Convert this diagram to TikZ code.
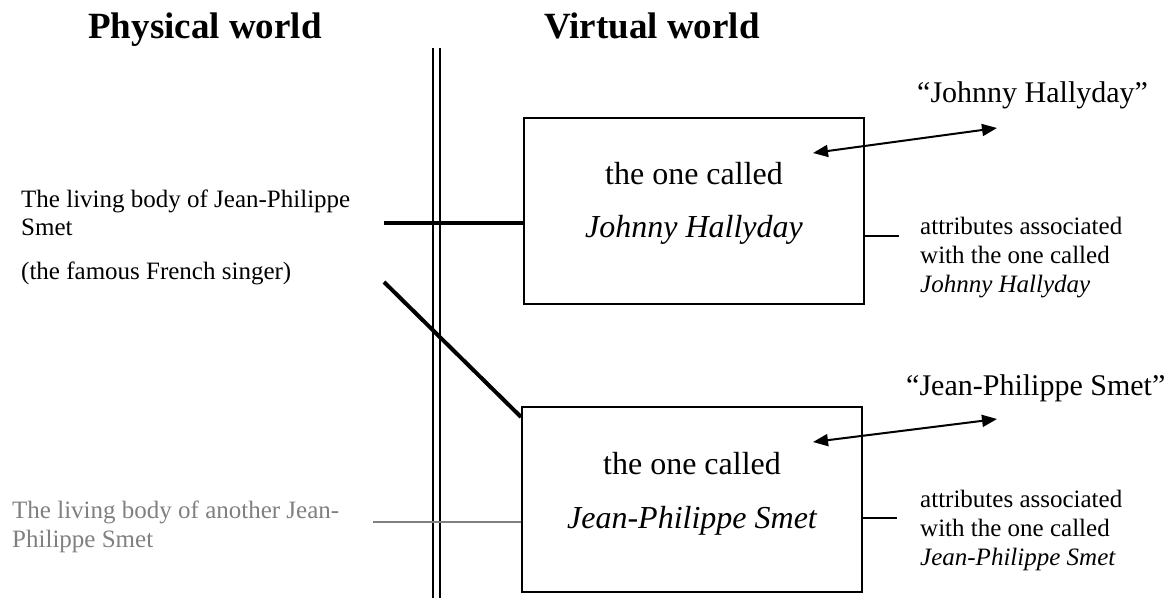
\documentclass[tikz,border=0pt]{standalone}
\usepackage{fontspec}
\setmainfont{Liberation Serif}
\usetikzlibrary{arrows.meta}
\definecolor{mutedgray}{HTML}{808080}
\begin{document}
\begin{tikzpicture}[x=1pt,y=-1pt,
  heading/.style={font=\fontsize{37}{44}\selectfont\bfseries, inner sep=0pt, anchor=base},
  bodytext/.style={font=\fontsize{25}{28.5}\selectfont, inner sep=0pt, align=left, anchor=base west},
  attrtext/.style={font=\fontsize{25}{29}\selectfont, inner sep=0pt, align=left, anchor=base west},
  boxtext/.style={font=\fontsize{32}{38}\selectfont, inner sep=0pt, anchor=base},
  quotetext/.style={font=\fontsize{30}{36}\selectfont, inner sep=0pt, anchor=base west},
  entitybox/.style={draw, line width=2pt, minimum width=340pt, inner sep=0pt},
  thickline/.style={line width=4pt},
  grayline/.style={draw=mutedgray, line width=1.5pt},
  attrline/.style={line width=1.5pt},
  biarrow/.style={line width=2pt, {Triangle[length=15pt,width=12pt]}-{Triangle[length=15pt,width=12pt]}},
  divider/.style={line width=2pt, double distance=5pt}
]
\useasboundingbox (0,0) rectangle (1165,601);

% headings
\node[heading] (phys) at (205,39) {Physical world};
\node[heading] (virt) at (652,39) {Virtual world};

% border between the two worlds
\coordinate (wt) at (436.5,48);
\coordinate (wb) at (436.5,598);
\draw[divider] (wt) -- (wb);

% physical entities (multi-line nodes sit on the baseline of their last line)
\node[bodytext] (body1) at (21,280) {The living body of Jean-Philippe\\Smet\\[15.5pt](the famous French singer)};
\node[attrtext, text=mutedgray] (body2) at (12,547) {The living body of another Jean-\\Philippe Smet};

% virtual identities
\node[entitybox, minimum height=186pt] (box1) at (694,211) {};
\node[entitybox, minimum height=185pt] (box2) at (692,499.5) {};
\node[boxtext] (called1) at (694,185) {the one called};
\node[boxtext] (name1) at (694,238) {\itshape Johnny Hallyday};
\node[boxtext] (called2) at (692,475) {the one called};
\node[boxtext] (name2) at (692,528) {\itshape Jean-Philippe Smet};

% links from bodies to identities
\coordinate (pj) at (384,223);
\draw[thickline] (pj) -- (pj -| box1.west);
\coordinate (pd) at (384,282);
\draw[thickline] (pd) -- ([yshift=-11pt]box2.north west);
\coordinate (pg) at (373,522);
\draw[grayline] (pg) -- (pg -| box2.west);

% names
\node[quotetext] (quote1) at (917,103) {“Johnny Hallyday”};
\node[quotetext] (quote2) at (906,396) {“Jean-Philippe Smet”};
\coordinate (a1) at (813,153);
\coordinate (q1) at (997,128);
\draw[biarrow] (a1) -- (q1);
\coordinate (a2) at (813,442);
\coordinate (q2) at (997,419);
\draw[biarrow] (a2) -- (q2);

% attributes
\node[attrtext] (attr1) at (920,293) {attributes associated\\with the one called\\\textit{Johnny Hallyday}};
\node[attrtext] (attr2) at (920,565) {attributes associated\\with the one called\\\textit{Jean-Philippe Smet}};
\coordinate (t1) at (899,236);
\draw[attrline] (t1 -| box1.east) -- (t1);
\coordinate (t2) at (897,518);
\draw[attrline] (t2 -| box2.east) -- (t2);
\end{tikzpicture}
\end{document}
